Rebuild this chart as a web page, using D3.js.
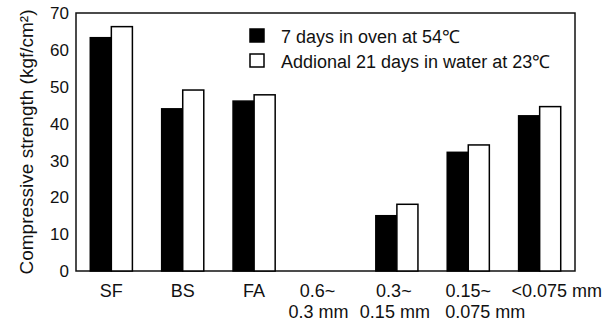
<!DOCTYPE html>
<html>
<head>
<meta charset="utf-8">
<script src="https://cdn.jsdelivr.net/npm/d3@7"></script>
<style>
  body { margin: 0; background: #fff; }
  text { font-family: "Liberation Sans", Arial, sans-serif; fill: #111; }
</style>
</head>
<body>
<div id="chart"></div>
<script>
const categories = [["SF"], ["BS"], ["FA"], ["0.6~", "0.3 mm"], ["0.3~", "0.15 mm"], ["0.15~", "0.075 mm"], ["<0.075 mm"]];
const ovenValues = [63.3, 44.0, 46.1, 0, 15.0, 32.2, 42.1];
const waterValues = [66.3, 49.1, 47.8, 0, 18.1, 34.2, 44.6];
const seriesNames = ["7 days in oven at 54\u2103", "Addional 21 days in water at 23\u2103"];
const yTicks = [0, 10, 20, 30, 40, 50, 60, 70];

const width = 616;
const height = 325;
const margin = { top: 13, right: 41, bottom: 54, left: 76 };

// the long size labels sit a little off their group in the original
const labelNudge = { "0.6~": -8, "0.3 mm": -7, "0.3~": -3, "0.15 mm": -2, "0.075 mm": 17, "<0.075 mm": 17 };

const svg = d3.select("#chart")
  .append("svg")
  .attr("width", width)
  .attr("height", height);

const x = d3.scaleBand()
  .domain(d3.range(categories.length))
  .range([margin.left, width - margin.right])
  .paddingInner(0.41)
  .paddingOuter(0.2);

const y = d3.scaleLinear()
  .domain([0, 70])
  .range([height - margin.bottom, margin.top]);

const sub = d3.scaleBand()
  .domain([0, 1])
  .range([0, x.bandwidth()]);

// frame
svg.append("rect")
  .attr("x", margin.left)
  .attr("y", margin.top)
  .attr("width", width - margin.left - margin.right)
  .attr("height", height - margin.top - margin.bottom)
  .attr("fill", "none")
  .attr("stroke", "#111")
  .attr("stroke-width", 1.5);

// y tick labels
svg.append("g")
  .selectAll("text")
  .data(yTicks)
  .join("text")
    .attr("x", margin.left - 7)
    .attr("y", d => y(d))
    .attr("dy", "0.36em")
    .attr("text-anchor", "end")
    .attr("font-size", 17)
    .text(d => d);

// bars
const rows = categories.map((c, i) => ({ i, vals: [ovenValues[i], waterValues[i]] }));
const groups = svg.append("g")
  .selectAll("g")
  .data(rows)
  .join("g")
    .attr("transform", d => `translate(${x(d.i)},0)`);

groups.selectAll("rect")
  .data(d => d.vals.map((v, k) => ({ v, k })).filter(e => e.v > 0))
  .join("rect")
    .attr("x", d => sub(d.k))
    .attr("y", d => y(d.v))
    .attr("width", sub.bandwidth())
    .attr("height", d => y(0) - y(d.v))
    .attr("fill", d => d.k === 0 ? "#000" : "#fff")
    .attr("stroke", "#000")
    .attr("stroke-width", 1.5);

// category labels
const labels = svg.append("g")
  .selectAll("text")
  .data(categories)
  .join("text")
    .attr("text-anchor", "middle")
    .attr("font-size", 18)
    .attr("y", 297);

labels.selectAll("tspan")
  .data((d, i) => d.map(t => ({ t, i })))
  .join("tspan")
    .attr("x", d => x(d.i) + x.bandwidth() / 2 + (labelNudge[d.t] || 0))
    .attr("dy", (d, j) => j === 0 ? 0 : 21)
    .text(d => d.t);

// y axis title
svg.append("text")
  .attr("transform", `translate(33,142) rotate(-90)`)
  .attr("text-anchor", "middle")
  .attr("font-size", 19)
  .text("Compressive strength (kgf/cm\u00b2)");

// legend
const legend = svg.append("g")
  .selectAll("g")
  .data(seriesNames)
  .join("g")
    .attr("transform", (d, i) => `translate(250,${29 + i * 25})`);

legend.append("rect")
  .attr("width", 14)
  .attr("height", 13)
  .attr("fill", (d, i) => i === 0 ? "#000" : "#fff")
  .attr("stroke", "#000")
  .attr("stroke-width", 1.5);

legend.append("text")
  .attr("x", 31)
  .attr("y", 13.5)
  .attr("font-size", 18)
  .text(d => d);
</script>
</body>
</html>
